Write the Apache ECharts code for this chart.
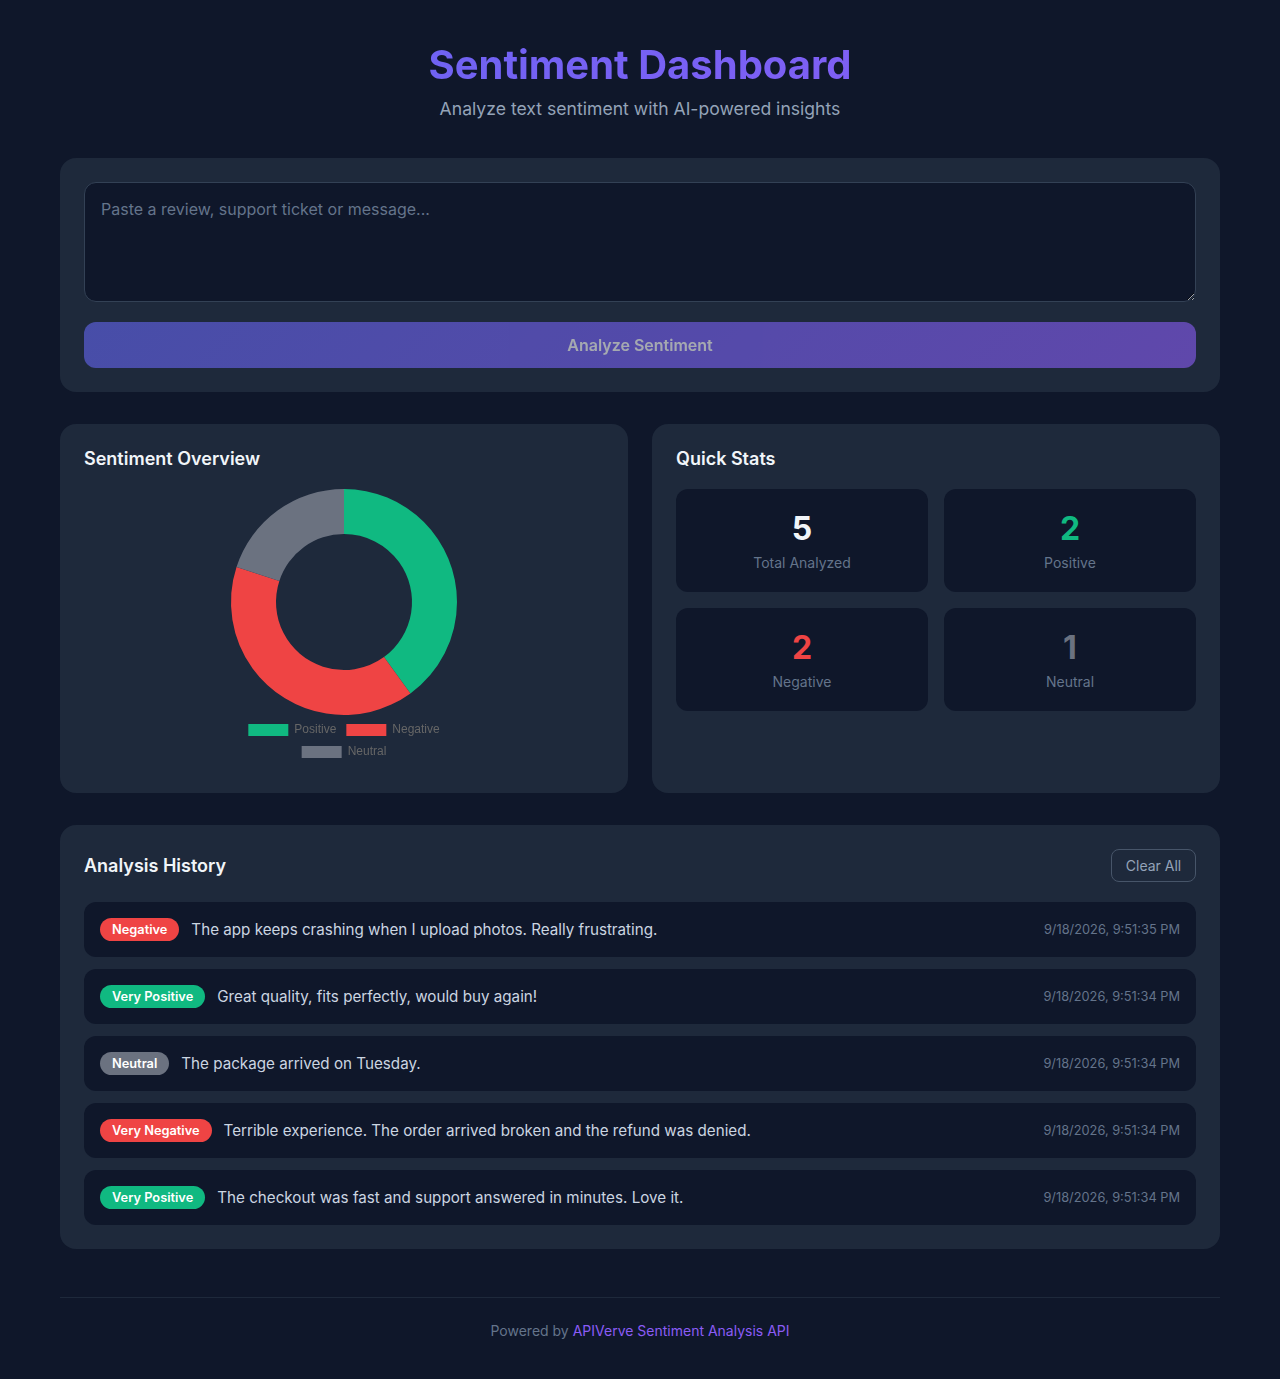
<!DOCTYPE html>
<html lang="en">
<head>
<meta charset="utf-8">
<title>Sentiment Dashboard</title>
<script src="https://cdn.jsdelivr.net/npm/echarts@6/dist/echarts.min.js"></script>
<style>
    * {
        box-sizing: border-box;
        margin: 0;
        padding: 0;
    }

    body {
        width: 1280px;
        height: 1379px;
        overflow: hidden;
        background-color: #0f172a;
        color: #f1f5f9;
        font-family: Inter, sans-serif;
    }

    .container {
        width: 1160px;
        margin: 0 auto;
        padding-top: 40px;
    }

    /* header */
    .head {
        text-align: center;
        height: 118px;
    }

    .head h1 {
        font-size: 40px;
        line-height: 50px;
        font-weight: 700;
        background: linear-gradient(135deg, #6366f1, #8b5cf6);
        -webkit-background-clip: text;
        background-clip: text;
        color: transparent;
    }

    .head p {
        font-size: 17.6px;
        line-height: 26px;
        margin-top: 6px;
        color: #94a3b8;
    }

    .card {
        background-color: #1e293b;
        border-radius: 16px;
        padding: 24px;
    }

    /* input area */
    .input_card {
        height: 234px;
    }

    textarea {
        display: block;
        width: 100%;
        height: 120px;
        padding: 16px;
        border: 1px solid #334155;
        border-radius: 12px;
        background-color: #0f172a;
        color: #f1f5f9;
        font-family: Inter, sans-serif;
        font-size: 16px;
        line-height: 20px;
        outline: none;
    }

    textarea::placeholder {
        color: #64748b;
        opacity: 1;
    }

    .analyze {
        display: block;
        width: 100%;
        height: 46px;
        margin-top: 20px;
        border: 0;
        border-radius: 12px;
        background: linear-gradient(135deg, #6366f1, #8b5cf6);
        color: #fff;
        font-family: Inter, sans-serif;
        font-size: 16px;
        font-weight: 600;
        opacity: 0.6;
    }

    /* middle row */
    .row {
        display: flex;
        gap: 24px;
        margin-top: 32px;
        height: 369px;
    }

    .row .card {
        width: 568px;
    }

    h3 {
        font-size: 18px;
        line-height: 22px;
        font-weight: 600;
    }

    #chart {
        width: 520px;
        height: 280px;
        margin-top: 19px;
    }

    .stats {
        display: grid;
        grid-template-columns: 252px 252px;
        gap: 16px;
        margin-top: 19px;
    }

    .stat {
        height: 103px;
        background-color: #0f172a;
        border-radius: 12px;
        text-align: center;
        padding-top: 20px;
    }

    .stat b {
        display: block;
        font-size: 32px;
        line-height: 39px;
        font-weight: 700;
    }

    .stat span {
        display: block;
        font-size: 14px;
        line-height: 17px;
        margin-top: 6px;
        color: #64748b;
    }

    /* history */
    .history {
        margin-top: 32px;
        height: 424px;
    }

    .history_head {
        display: flex;
        justify-content: space-between;
        align-items: center;
        height: 33px;
        margin-bottom: 20px;
    }

    .clear {
        width: 85px;
        height: 33px;
        border: 1px solid #475569;
        border-radius: 8px;
        background: transparent;
        color: #94a3b8;
        font-family: Inter, sans-serif;
        font-size: 14px;
    }

    .item {
        display: flex;
        align-items: center;
        height: 55px;
        margin-bottom: 12px;
        padding: 0 16px;
        background-color: #0f172a;
        border-radius: 12px;
    }

    .badge {
        height: 23px;
        line-height: 23px;
        padding: 0 12px;
        border-radius: 12px;
        color: #fff;
        font-size: 12.8px;
        font-weight: 600;
        margin-right: 12px;
    }

    .text {
        flex: 1;
        font-size: 15.2px;
        color: #cbd5e1;
    }

    .time {
        font-size: 12.8px;
        color: #64748b;
    }

    .foot {
        margin-top: 48px;
        border-top: 1px solid #1e293b;
        padding-top: 24px;
        text-align: center;
        font-size: 14px;
        line-height: 18px;
        color: #64748b;
    }

    .foot a {
        color: #8b5cf6;
        text-decoration: none;
    }
</style>
</head>
<body>
<div class="container">
    <div class="head">
        <h1>Sentiment Dashboard</h1>
        <p>Analyze text sentiment with AI-powered insights</p>
    </div>

    <div class="card input_card">
        <textarea placeholder="Paste a review, support ticket or message..."></textarea>
        <button class="analyze">Analyze Sentiment</button>
    </div>

    <div class="row">
        <div class="card">
            <h3>Sentiment Overview</h3>
            <div id="chart"></div>
        </div>
        <div class="card">
            <h3>Quick Stats</h3>
            <div class="stats" id="stats"></div>
        </div>
    </div>

    <div class="card history">
        <div class="history_head">
            <h3>Analysis History</h3>
            <button class="clear">Clear All</button>
        </div>
        <div id="list"></div>
    </div>

    <div class="foot">Powered by <a href="#">APIVerve Sentiment Analysis API</a></div>
</div>

<script>
    // chart data
    var categories = ['Positive', 'Negative', 'Neutral'];
    var counts = [2, 2, 1];
    var colors = ['#10b981', '#ef4444', '#6b7280'];

    // quick stats
    var statLabels = ['Total Analyzed', 'Positive', 'Negative', 'Neutral'];
    var statValues = [5, 2, 2, 1];
    var statColors = ['#f1f5f9', '#10b981', '#ef4444', '#6b7280'];

    // history rows
    var historyLabels = ['Negative', 'Very Positive', 'Neutral', 'Very Negative', 'Very Positive'];
    var historyBadges = ['#ef4444', '#10b981', '#6b7280', '#ef4444', '#10b981'];
    var historyTexts = [
        'The app keeps crashing when I upload photos. Really frustrating.',
        'Great quality, fits perfectly, would buy again!',
        'The package arrived on Tuesday.',
        'Terrible experience. The order arrived broken and the refund was denied.',
        'The checkout was fast and support answered in minutes. Love it.'
    ];
    var historyTimes = [
        '9/18/2026, 9:51:35 PM',
        '9/18/2026, 9:51:34 PM',
        '9/18/2026, 9:51:34 PM',
        '9/18/2026, 9:51:34 PM',
        '9/18/2026, 9:51:34 PM'
    ];

    var statsHtml = '';
    statLabels.forEach(function (label, i) {
        statsHtml += '<div class="stat"><b style="color:' + statColors[i] + '">' + statValues[i] + '</b><span>' + label + '</span></div>';
    });
    document.getElementById('stats').innerHTML = statsHtml;

    var listHtml = '';
    historyTexts.forEach(function (text, i) {
        listHtml += '<div class="item"><span class="badge" style="background:' + historyBadges[i] + '">' + historyLabels[i] + '</span>'
            + '<span class="text">' + text + '</span><span class="time">' + historyTimes[i] + '</span></div>';
    });
    document.getElementById('list').innerHTML = listHtml;

    // the legend wraps onto two rows, so one legend per row
    function legendRow(names, top) {
        return {
            data: names,
            left: 'center',
            top: top,
            itemWidth: 40,
            itemHeight: 12,
            itemGap: 10,
            padding: 0,
            icon: 'rect',
            selectedMode: false,
            textStyle: {
                color: '#666666',
                fontFamily: '"Liberation Sans", Arial, sans-serif',
                fontSize: 12,
                padding: [0, 0, 0, 1]
            }
        };
    }

    var myChart = echarts.init(document.getElementById('chart'));
    myChart.setOption({
        animation: false,
        legend: [
            legendRow(categories.slice(0, 2), 235),
            legendRow(categories.slice(2), 257)
        ],
        series: [{
            type: 'pie',
            center: [260, 113],
            radius: [68, 113],
            startAngle: 90,
            clockwise: true,
            label: { show: false },
            labelLine: { show: false },
            data: categories.map(function (name, i) {
                return { name: name, value: counts[i], itemStyle: { color: colors[i] } };
            })
        }]
    });
</script>
</body>
</html>
